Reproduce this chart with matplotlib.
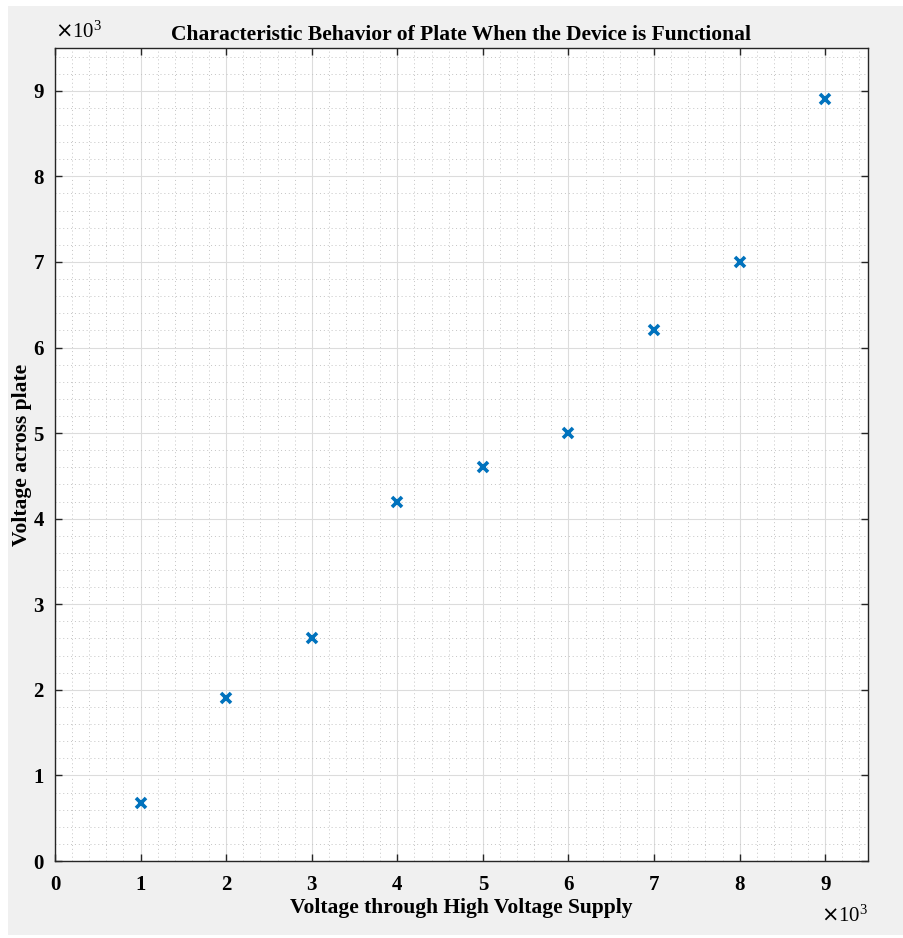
import matplotlib
matplotlib.use('Agg')
import matplotlib.pyplot as plt
from matplotlib.patches import Rectangle
from matplotlib.ticker import MultipleLocator, FuncFormatter

supply_v = [1000, 2000, 3000, 4000, 5000, 6000, 7000, 8000, 9000]
plate_v = [680, 1900, 2600, 4200, 4600, 5000, 6200, 7000, 8900]

plt.rcParams['font.family'] = ['Liberation Serif', 'DejaVu Serif']

W, H = 904, 938
fig = plt.figure(figsize=(W / 100, H / 100), dpi=100, facecolor='white')
# grey MATLAB figure background
fig.patches.append(Rectangle((8 / W, 3 / H), 1, 1 - 9 / H, transform=fig.transFigure,
                             facecolor='#f0f0f0', edgecolor='none', zorder=-10))

ax = fig.add_axes([55 / W, 1 - 861 / H, (868 - 55) / W, (861 - 48) / H])
ax.set_facecolor('white')

ax.plot(supply_v, plate_v, 'x', color='#0072BD', ms=7, mew=2.6)

ax.set_xlim(0, 9500)
ax.set_ylim(0, 9500)
ax.xaxis.set_major_locator(MultipleLocator(1000))
ax.yaxis.set_major_locator(MultipleLocator(1000))
ax.xaxis.set_minor_locator(MultipleLocator(200))
ax.yaxis.set_minor_locator(MultipleLocator(200))
fmt = FuncFormatter(lambda v, p: '%d' % round(v / 1000))
ax.xaxis.set_major_formatter(fmt)
ax.yaxis.set_major_formatter(fmt)

ax.grid(which='major', color='#dcdcdc', lw=0.8, ls='-')
ax.grid(which='minor', color='#c4c4c4', lw=0.7, ls=(0, (1, 3)))
ax.set_axisbelow(True)

ax.tick_params(which='both', direction='in', top=True, right=True)
ax.tick_params(which='major', length=5, width=1, color='#262626', labelsize=15)
ax.tick_params(axis='x', which='major', pad=10)
ax.tick_params(axis='y', which='major', pad=8)
ax.tick_params(which='minor', length=0)
for lbl in ax.get_xticklabels() + ax.get_yticklabels():
    lbl.set_fontweight('bold')
for s in ax.spines.values():
    s.set_color('#262626')
    s.set_linewidth(1)

ax.set_title('Characteristic Behavior of Plate When the Device is Functional',
             fontsize=15.5, fontweight='bold', pad=6)
ax.set_xlabel('Voltage through High Voltage Supply', fontsize=15.5, fontweight='bold')
ax.xaxis.set_label_coords(0.5, -(908 - 861) / 813)
ax.xaxis.label.set_va('center')
ax.set_ylabel('Voltage across plate', fontsize=15.5, fontweight='bold')
ax.yaxis.set_label_coords(-(55 - 22) / 813, 0.5)
ax.yaxis.label.set_va('center')

ax.text(0, 1.006, r'$\times\mathregular{10^3}$', transform=ax.transAxes,
        fontsize=15, ha='left', va='bottom')
ax.text(1, -0.055, r'$\times\mathregular{10^3}$', transform=ax.transAxes,
        fontsize=15, ha='right', va='top')

fig.savefig('out.png', dpi=100, facecolor=fig.get_facecolor())
